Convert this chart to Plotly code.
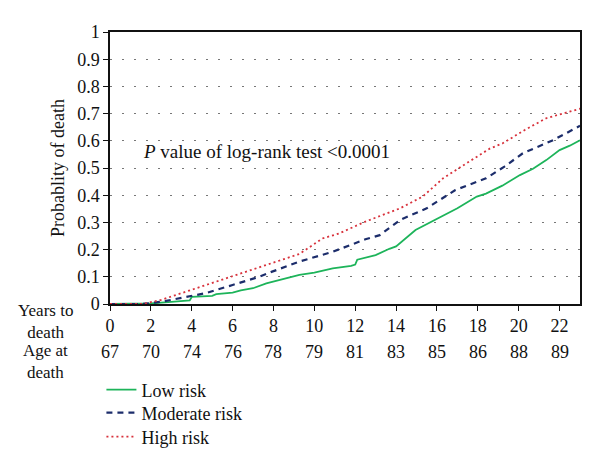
import plotly.graph_objects as go

# ---- data ----
year_ticks = [0, 2, 4, 6, 8, 10, 12, 14, 16, 18, 20, 22]
age_labels = ["67", "70", "74", "76", "78", "79", "81", "83", "85", "86", "88", "89"]
y_ticks = [0, 0.1, 0.2, 0.3, 0.4, 0.5, 0.6, 0.7, 0.8, 0.9, 1]

low_x = [0, 1.6, 2.0, 3.0, 3.9, 4.0, 5.0, 5.2, 6.0, 6.4, 7.0, 7.65, 8.6, 9.27, 10.0,
         10.9, 11.8, 12.0, 12.1, 13.0, 13.67, 14.0, 14.95, 16.16, 17.0, 17.95, 18.4,
         19.2, 20.06, 20.7, 21.35, 22.0, 22.5, 23.0]
low_y = [0, 0, 0.002, 0.008, 0.013, 0.026, 0.030, 0.036, 0.042, 0.050, 0.058, 0.076,
         0.094, 0.107, 0.115, 0.131, 0.140, 0.145, 0.163, 0.180, 0.203, 0.212, 0.272,
         0.321, 0.352, 0.395, 0.406, 0.435, 0.474, 0.497, 0.529, 0.566, 0.582, 0.602]

mod_x = [0, 1.6, 2.5, 3.0, 3.9, 4.7, 6.0, 7.3, 7.9, 9.27, 10.9, 12.5, 13.2, 14.2,
         15.5, 16.9, 18.4, 19.3, 20.2, 21.7, 23.0]
mod_y = [0, 0, 0.008, 0.015, 0.027, 0.040, 0.070, 0.100, 0.118, 0.156, 0.192, 0.238,
         0.253, 0.309, 0.352, 0.419, 0.462, 0.505, 0.554, 0.603, 0.655]

high_x = [0, 1.6, 2.5, 3.9, 6.0, 7.65, 9.27, 10.4, 11.2, 12.5, 14.2, 15.3, 16.3,
          17.5, 18.6, 19.2, 20.3, 21.35, 23.0]
high_y = [0, 0, 0.015, 0.050, 0.100, 0.143, 0.184, 0.241, 0.259, 0.303, 0.352, 0.395,
          0.462, 0.520, 0.572, 0.590, 0.640, 0.683, 0.718]

FONT = "Liberation Serif, Times New Roman, serif"
FS = 18

plot_top, plot_bottom = 32, 304
plot_left, plot_right = 109.6, 580.5

def py(v):
    return (plot_bottom - v) / (plot_bottom - plot_top)

def px(v):
    return (v - plot_left) / (plot_right - plot_left)

fig = go.Figure()
fig.add_trace(go.Scatter(x=low_x, y=low_y, mode="lines", name="Low risk",
                         line=dict(color="#1db45a", width=1.8), legend="legend"))
fig.add_trace(go.Scatter(x=mod_x, y=mod_y, mode="lines", name="Moderate risk",
                         line=dict(color="#1c2d6b", width=2.2, dash="6px,5px"), legend="legend2"))
fig.add_trace(go.Scatter(x=high_x, y=high_y, mode="lines", name="High risk",
                         line=dict(color="#d8323c", width=1.8, dash="2px,3px"), legend="legend3"))

annotations = [
    dict(x=1.5, y=0.559, xref="x", yref="y", xanchor="left", yanchor="middle",
         text="<i>P</i> value of log-rank test &lt;0.0001", showarrow=False,
         font=dict(family=FONT, size=FS + 1, color="#111")),
]
for yr, age in zip(year_ticks, age_labels):
    annotations.append(dict(x=yr, y=py(352), xref="x", yref="paper", text=age, showarrow=False,
                            xanchor="center", yanchor="middle",
                            font=dict(family=FONT, size=FS, color="#111")))
for txt, yy in [("Years to<br>death", 321), ("Age at<br>death", 361)]:
    annotations.append(dict(x=px(45), y=py(yy), xref="paper", yref="paper", text=txt,
                            showarrow=False, xanchor="center", yanchor="middle",
                            font=dict(family=FONT, size=17, color="#111")))

leg_common = dict(xanchor="left", yanchor="middle", font=dict(family=FONT, size=FS),
                  bgcolor="rgba(0,0,0,0)", x=px(101), itemwidth=30)

fig.update_layout(
    width=600, height=469,
    margin=dict(l=plot_left, r=600 - plot_right, t=plot_top, b=469 - plot_bottom, autoexpand=False),
    paper_bgcolor="white", plot_bgcolor="white",
    font=dict(family=FONT, size=FS, color="#111"),
    showlegend=True,
    legend=dict(y=py(390), **leg_common),
    legend2=dict(y=py(413), **leg_common),
    legend3=dict(y=py(437), **leg_common),
    annotations=annotations,
    xaxis=dict(range=[0, 23], tickvals=year_ticks, showline=True, linecolor="#111",
               linewidth=1.5, mirror=True, ticks="outside", ticklen=5, tickcolor="#111",
               showgrid=False, zeroline=False, tickfont=dict(family=FONT, size=FS)),
    yaxis=dict(range=[0, 1], tickvals=y_ticks, ticktext=[("%g" % v) for v in y_ticks],
               showline=True, linecolor="#111", linewidth=1.5, mirror=True,
               ticks="outside", ticklen=5, tickcolor="#111",
               showgrid=True, gridcolor="#777", gridwidth=1.3, griddash="1.5px,10.5px",
               zeroline=False, tickfont=dict(family=FONT, size=FS),
               title=dict(text="Probablity of death", font=dict(family=FONT, size=FS), standoff=8)),
)

fig.write_html("out.html", config={"displayModeBar": False},
               post_script="document.body.style.margin='0px';")
